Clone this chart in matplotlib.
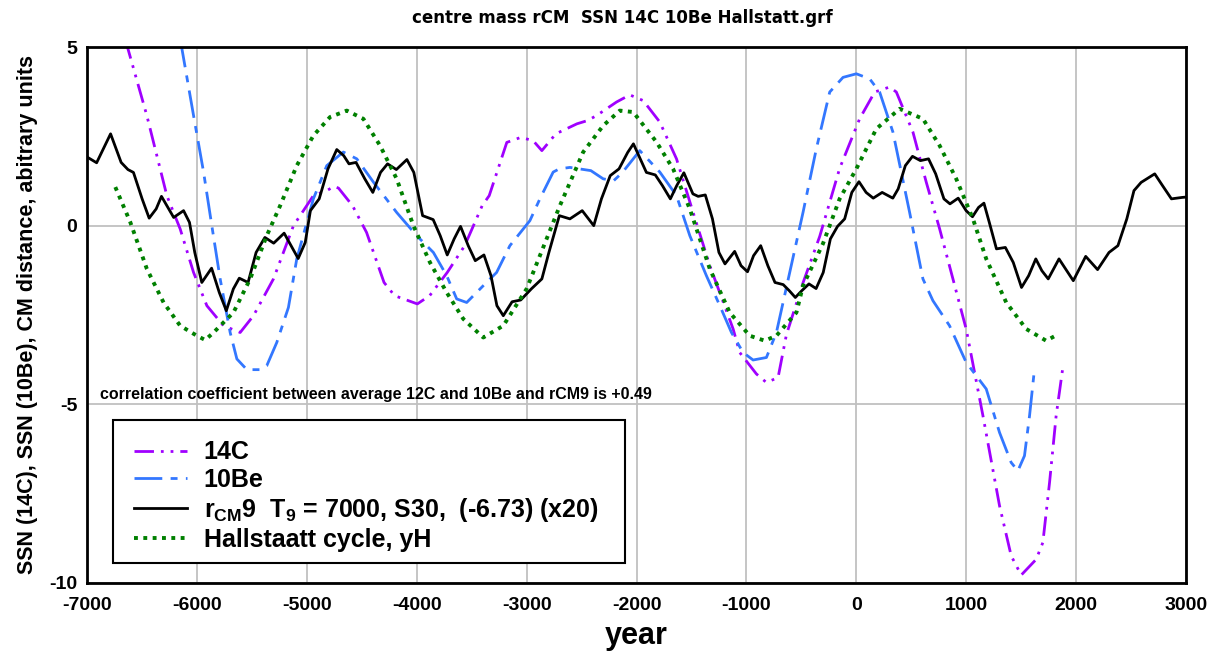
import matplotlib.pyplot as plt
from matplotlib.patches import Rectangle

plt.rcParams['font.family'] = ['Liberation Sans', 'DejaVu Sans']
plt.rcParams['mathtext.fontset'] = 'custom'
plt.rcParams['mathtext.bf'] = 'Liberation Sans:bold'
plt.rcParams['mathtext.rm'] = 'Liberation Sans:bold'
plt.rcParams['axes.unicode_minus'] = False

# 14C series
c14_year = [-6650, -6455, -6273, -6152, -6030, -5909, -5758, -5606, -5485, -5303,
            -5121, -4940, -4807, -4750, -4711, -4584, -4456, -4297, -4201, -3994,
            -3882, -3722, -3563, -3404, -3340, -3180, -3053, -2941, -2861, -2734,
            -2542, -2447, -2364, -2182, -2061, -1939, -1788, -1636, -1485, -1333,
            -1121, -1061, -909, -818, -712, -636, -485, -333, -152, 30,
            167, 303, 364, 515, 636, 758, 879, 1000, 1152, 1303,
            1409, 1500, 1636, 1697, 1758, 1818, 1879]
c14_val = [5.2, 3.08, 0.84, -0.09, -1.31, -2.24, -2.8, -2.99, -2.52, -1.49,
           0.0, 0.84, 1.0, 1.1, 1.05, 0.56, -0.19, -1.59, -1.96, -2.19,
           -1.96, -1.31, -0.56, 0.56, 0.84, 2.33, 2.47, 2.38, 2.1, 2.57,
           2.85, 2.94, 3.08, 3.46, 3.66, 3.5, 2.9, 1.87, 0.37, -1.12,
           -2.89, -3.55, -4.15, -4.39, -4.25, -3.05, -1.6, -0.3, 1.6, 2.99,
           3.74, 3.88, 3.74, 2.62, 1.22, -0.09, -1.49, -2.9, -5.32, -7.84,
           -9.24, -9.78, -9.34, -8.87, -7.19, -5.32, -3.97]

# 10Be series
be10_year = [-6150, -6030, -5939, -5864, -5788, -5697, -5636, -5545, -5424, -5364,
             -5273, -5167, -5091, -4940, -4818, -4667, -4545, -4394, -4182, -4000,
             -3848, -3727, -3636, -3545, -3394, -3273, -3152, -2970, -2879, -2758,
             -2702, -2606, -2415, -2303, -2207, -2128, -1970, -1788, -1636, -1515,
             -1364, -1242, -1136, -1030, -939, -818, -727, -606, -485, -364,
             -242, -121, 0, 121, 212, 333, 485, 606, 697, 848,
             1000, 1182, 1303, 1409, 1470, 1530, 1576, 1621]
be10_val = [5.2, 3.08, 1.5, 0.0, -1.49, -2.99, -3.73, -4.03, -4.03, -3.92,
            -3.27, -2.29, -0.93, 0.75, 1.68, 2.06, 1.87, 1.22, 0.37, -0.28,
            -0.75, -1.4, -2.05, -2.15, -1.68, -1.31, -0.56, 0.14, 0.75, 1.5,
            1.59, 1.63, 1.54, 1.31, 1.26, 1.49, 2.1, 1.5, 0.84, -0.28,
            -1.4, -2.24, -2.99, -3.55, -3.76, -3.69, -2.99, -1.31, 0.37, 2.15,
            3.74, 4.15, 4.25, 4.11, 3.74, 2.62, 0.37, -1.49, -2.1, -2.8,
            -3.83, -4.57, -5.79, -6.63, -6.86, -6.44, -5.32, -4.01]

# rCM9 series
rcm_year = [-7000, -6982, -6912, -6785, -6689, -6627, -6577, -6498, -6434, -6370,
            -6322, -6211, -6121, -6067, -6019, -5955, -5866, -5796, -5732, -5668,
            -5614, -5534, -5461, -5381, -5301, -5206, -5126, -5078, -5014, -4967,
            -4887, -4807, -4727, -4664, -4616, -4552, -4472, -4399, -4329, -4265,
            -4185, -4089, -4026, -3946, -3850, -3786, -3722, -3659, -3601, -3531,
            -3467, -3388, -3324, -3270, -3212, -3132, -3053, -2957, -2861, -2797,
            -2702, -2606, -2494, -2389, -2319, -2239, -2159, -2080, -2028, -1910,
            -1829, -1764, -1692, -1634, -1569, -1487, -1439, -1374, -1309, -1250,
            -1195, -1107, -1049, -990, -935, -870, -805, -740, -665, -610,
            -555, -496, -431, -366, -301, -236, -171, -106, -41, 24,
            89, 154, 235, 332, 381, 446, 511, 583, 657, 722,
            797, 852, 927, 999, 1057, 1112, 1161, 1210, 1275, 1356,
            1428, 1503, 1568, 1633, 1688, 1746, 1844, 1974, 2087, 2195,
            2299, 2380, 2461, 2526, 2591, 2715, 2786, 2867, 2964, 3000]
rcm_val = [1.92, 1.89, 1.76, 2.57, 1.77, 1.57, 1.49, 0.75, 0.21, 0.47,
           0.82, 0.23, 0.42, 0.09, -0.75, -1.59, -1.19, -1.87, -2.38, -1.77,
           -1.47, -1.59, -0.75, -0.33, -0.49, -0.21, -0.65, -0.92, -0.47, 0.42,
           0.75, 1.59, 2.13, 1.96, 1.73, 1.77, 1.31, 0.93, 1.49, 1.73,
           1.57, 1.85, 1.49, 0.28, 0.17, -0.28, -0.82, -0.37, -0.02, -0.56,
           -0.98, -0.82, -1.40, -2.24, -2.52, -2.13, -2.08, -1.77, -1.49, -0.75,
           0.28, 0.19, 0.42, 0.0, 0.75, 1.4, 1.59, 2.05, 2.29, 1.49,
           1.42, 1.12, 0.75, 1.12, 1.48, 0.89, 0.82, 0.86, 0.19, -0.75,
           -1.07, -0.72, -1.12, -1.29, -0.84, -0.56, -1.12, -1.59, -1.65, -1.82,
           -2.01, -1.82, -1.63, -1.76, -1.31, -0.37, -0.02, 0.19, 0.93, 1.23,
           0.93, 0.77, 0.93, 0.77, 1.03, 1.68, 1.94, 1.82, 1.87, 1.45,
           0.75, 0.61, 0.77, 0.42, 0.25, 0.51, 0.63, 0.09, -0.65, -0.61,
           -1.03, -1.73, -1.4, -0.93, -1.26, -1.49, -0.93, -1.54, -0.86, -1.23,
           -0.75, -0.56, 0.19, 0.98, 1.21, 1.45, 1.12, 0.75, 0.79, 0.8]

# Hallstatt cycle
hall_year = [-6742, -6606, -6455, -6303, -6152, -6000, -5924, -5848, -5667, -5515,
             -5364, -5242, -5091, -4940, -4788, -4636, -4485, -4333, -4182, -4030,
             -3879, -3727, -3576, -3394, -3212, -3000, -2879, -2697, -2485, -2303,
             -2152, -2030, -1818, -1667, -1515, -1333, -1152, -970, -833, -727,
             -545, -485, -303, -152, 0, 182, 394, 606, 758, 909,
             1061, 1182, 1364, 1545, 1727, 1842]
hall_val = [1.08, 0.1, -1.21, -2.15, -2.8, -3.08, -3.2, -2.99, -2.43, -1.49,
            -0.28, 0.56, 1.68, 2.52, 3.04, 3.22, 2.99, 2.24, 1.31, 0.0,
            -1.03, -1.87, -2.61, -3.13, -2.8, -1.77, -0.84, 0.56, 2.06, 2.8,
            3.22, 3.18, 2.34, 1.59, 0.47, -1.21, -2.43, -3.08, -3.22, -3.08,
            -2.43, -1.68, -0.5, 0.75, 1.59, 2.71, 3.27, 2.99, 2.24, 1.31,
            0.19, -0.93, -2.15, -2.89, -3.22, -3.03]

x_ticks = list(range(-7000, 3001, 1000))
y_ticks = [-10, -5, 0, 5]

fig = plt.figure(figsize=(12.11, 6.51), dpi=100)
ax = fig.add_axes([0.0718, 0.1045, 0.9076, 0.8233])

ax.plot(c14_year, c14_val, color='#a000ff', lw=2, linestyle=(0, (7, 2.5, 1, 2.5, 1, 2.5)), label='14C')
ax.plot(be10_year, be10_val, color='#3377ff', lw=2, linestyle=(0, (10, 3, 2.5, 3)), label='10Be')
ax.plot(rcm_year, rcm_val, color='black', lw=2, solid_joinstyle='round',
        label=r'r$_{\mathbf{CM}}$9  T$_{\mathbf{9}}$ = 7000, S30,  (-6.73) (x20)')
ax.plot(hall_year, hall_val, color='#008000', lw=2.8, linestyle=(0, (1, 1.4)), label='Hallstaatt cycle, yH')

ax.set_xlim(-7000, 3000)
ax.set_ylim(-10, 5)
ax.set_xticks(x_ticks)
ax.set_yticks(y_ticks)
ax.grid(True, color='#c0c0c0', lw=1.3)
ax.set_axisbelow(True)
ax.tick_params(length=0, labelsize=14)
ax.tick_params(axis='y', pad=7)
ax.tick_params(axis='x', pad=10)
for lab in ax.get_xticklabels() + ax.get_yticklabels():
    lab.set_fontweight('bold')
for sp in ax.spines.values():
    sp.set_linewidth(2)

ax.set_xlabel('year', fontsize=22, fontweight='bold', labelpad=5)
ax.set_ylabel('SSN (14C), SSN (10Be), CM distance, abitrary units', fontsize=15.5, fontweight='bold', labelpad=8)
fig.text(0.514, 0.972, 'centre mass rCM  SSN 14C 10Be Hallstatt.grf', ha='center', va='center',
         fontsize=12, fontweight='bold', family='Liberation Sans Narrow')

ax.text(-6880, -4.72, 'correlation coefficient between average 12C and 10Be and rCM9 is +0.49',
        fontsize=11.5, fontweight='bold', va='center')

# legend box drawn separately so the entries can sit where they do in the original
box = Rectangle((0.0237, 0.0373), 0.466, 0.267, transform=ax.transAxes,
                facecolor='white', edgecolor='black', lw=1.5, zorder=4)
ax.add_patch(box)
leg = ax.legend(loc='lower left', bbox_to_anchor=(0.0328, 0.0373), frameon=False,
                prop={'weight': 'bold', 'size': 18}, handlelength=2.1,
                handletextpad=0.68, labelspacing=0.15, borderpad=0.45, borderaxespad=0)
leg.set_zorder(5)

fig.savefig('out.png', dpi=100)
